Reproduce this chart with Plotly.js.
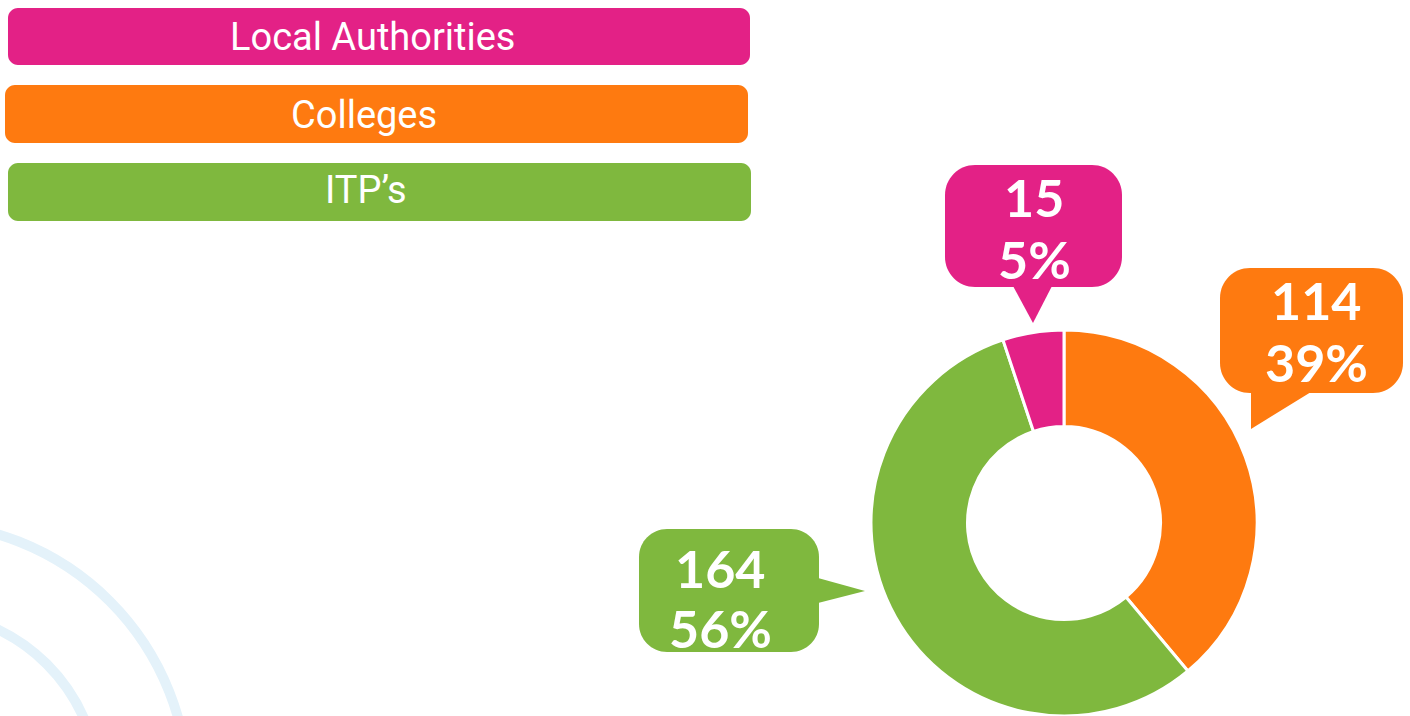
<!DOCTYPE html>
<html>
<head>
<meta charset="utf-8">
<script src="https://cdn.plot.ly/plotly-3.0.1.min.js"></script>
<style>html,body{margin:0;padding:0;background:#fff;}#chart{width:1410px;height:716px;}</style>
</head>
<body>
<div id="chart"></div>
<script>
// ---- data ----
const categories = ["Local Authorities", "Colleges", "ITP\u2019s"];
const values = [15, 114, 164];
const colors = ["#E32186", "#FE7A10", "#7FB83E"];
const pieOrder = [1, 2, 0]; // clockwise from 12 o'clock: Colleges, ITP's, Local Authorities

// ---- helpers (pixel -> paper) ----
const W = 1410, H = 716;
const X = p => p / W;
const Y = p => 1 - p / H;
const P = (x, y) => X(x).toFixed(5) + "," + Y(y).toFixed(5);

function roundRect(x0, y0, x1, y1, r) {
  const k = r * 0.4477;
  return "M" + P(x0 + r, y0) +
    " L" + P(x1 - r, y0) +
    " C" + P(x1 - k, y0) + " " + P(x1, y0 + k) + " " + P(x1, y0 + r) +
    " L" + P(x1, y1 - r) +
    " C" + P(x1, y1 - k) + " " + P(x1 - k, y1) + " " + P(x1 - r, y1) +
    " L" + P(x0 + r, y1) +
    " C" + P(x0 + k, y1) + " " + P(x0, y1 - k) + " " + P(x0, y1 - r) +
    " L" + P(x0, y0 + r) +
    " C" + P(x0, y0 + k) + " " + P(x0 + k, y0) + " " + P(x0 + r, y0) + " Z";
}
function tri(pts) {
  return "M" + pts.map(p => P(p[0], p[1])).join(" L") + " Z";
}

const total = values.reduce((a, b) => a + b, 0);
const pct = values.map(v => Math.round(v / total * 100));

// ---- layout boxes (positions only) ----
const legendBoxes = [
  {x0: 8, y0: 8, x1: 750, y1: 65, tx: 372, ty: 37},
  {x0: 5, y0: 85, x1: 748, y1: 143, tx: 364, ty: 115},
  {x0: 8, y0: 163, x1: 751, y1: 221, tx: 366, ty: 190}
];
const callouts = [
  {box: [945, 165, 1122, 287, 30], ptr: [[1013, 286], [1052, 286], [1033, 323]], tx: 1034, ty1: 197, ty2: 259},
  {box: [1220, 268, 1403, 393, 30], ptr: [[1251, 392], [1251, 429], [1311, 392]], tx: 1316, ty1: 300, ty2: 362},
  {box: [639, 529, 819, 652, 28], ptr: [[818, 578], [865, 591], [818, 603]], tx: 720, ty1: 568, ty2: 628}
];

const shapes = [];
const annotations = [];

// background decorative arcs
[[267, 10], [178, 10]].forEach(([r, w]) => {
  const cx = -79, cy = 790;
  shapes.push({type: "circle", xref: "paper", yref: "paper", layer: "below",
    x0: X(cx - r), x1: X(cx + r), y0: Y(cy + r), y1: Y(cy - r),
    line: {color: "#E4F2FA", width: w}, fillcolor: "rgba(0,0,0,0)"});
});

categories.forEach((c, i) => {
  const b = legendBoxes[i];
  shapes.push({type: "path", xref: "paper", yref: "paper", path: roundRect(b.x0, b.y0, b.x1, b.y1, 10),
    fillcolor: colors[i], line: {width: 0}});
  annotations.push({xref: "paper", yref: "paper", x: X(b.tx), y: Y(b.ty), xanchor: "center", yanchor: "middle",
    showarrow: false, text: c,
    font: {family: "Roboto, sans-serif", stretch: "condensed", size: 38, color: "#ffffff"}});

  const cl = callouts[i];
  shapes.push({type: "path", xref: "paper", yref: "paper", path: roundRect(cl.box[0], cl.box[1], cl.box[2], cl.box[3], cl.box[4]),
    fillcolor: colors[i], line: {width: 0}});
  shapes.push({type: "path", xref: "paper", yref: "paper", path: tri(cl.ptr),
    fillcolor: colors[i], line: {width: 0}});
  const f = {family: "Lato, Noto Sans, sans-serif", size: 52, color: "#ffffff"};
  annotations.push({xref: "paper", yref: "paper", x: X(cl.tx), y: Y(cl.ty1), xanchor: "center", yanchor: "middle",
    showarrow: false, text: "<b>" + values[i] + "</b>", font: f, borderpad: 0});
  annotations.push({xref: "paper", yref: "paper", x: X(cl.tx), y: Y(cl.ty2), xanchor: "center", yanchor: "middle",
    showarrow: false, text: "<b>" + pct[i] + "%</b>", font: f, borderpad: 0});
});

const trace = {
  type: "pie",
  labels: pieOrder.map(i => categories[i]),
  values: pieOrder.map(i => values[i]),
  marker: {colors: pieOrder.map(i => colors[i]), line: {color: "#ffffff", width: 3}},
  hole: 0.5,
  sort: false,
  direction: "clockwise",
  rotation: 0,
  textinfo: "none",
  hoverinfo: "label+value+percent",
  domain: {x: [X(870), X(1258)], y: [0, Y(330)]}
};

const layout = {
  width: W, height: H,
  margin: {l: 0, r: 0, t: 0, b: 0},
  paper_bgcolor: "#ffffff",
  plot_bgcolor: "#ffffff",
  showlegend: false,
  shapes: shapes,
  annotations: annotations
};

Plotly.newPlot("chart", [trace], layout, {displayModeBar: false, staticPlot: true});
</script>
</body>
</html>
